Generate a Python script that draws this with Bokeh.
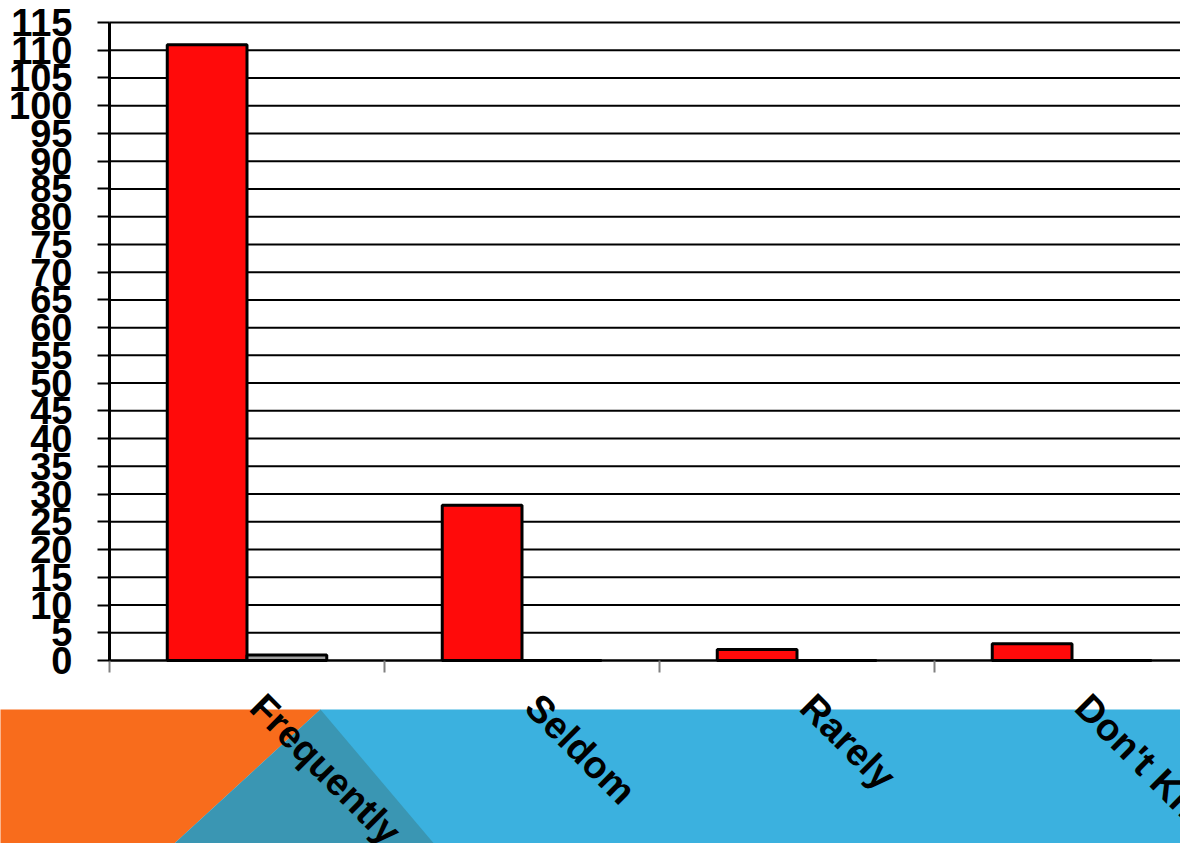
import numpy as np
from bokeh.plotting import figure
from bokeh.models import Range1d, FixedTicker, PolyAnnotation, LinearAxis
from bokeh.core.properties import value
from bokeh.embed import file_html
from bokeh.resources import INLINE

categories = ["Frequently", "Seldom", "Rarely", "Don't Know"]
series_red = [111, 28, 2, 3]
series_grey = [1, 0, 0, 0]
y_ticks = list(range(0, 120, 5))

FONT = "Liberation Sans"
W, H = 1180, 843

# layout (pixels): value axis at x=109, zero line at y=660, top (115) at y=22, 275 px per category
AX_X, ZERO_Y, TOP_Y = 109, 660, 22
PX_CAT = 275.0
PX_UNIT = (ZERO_Y - TOP_Y) / 115.0
x_start = -AX_X / PX_CAT
x_end = (W - AX_X) / PX_CAT
y_start = -(H - ZERO_Y) / PX_UNIT
y_end = ZERO_Y / PX_UNIT

p = figure(width=W, height=H, output_backend="svg", toolbar_location=None,
           x_range=Range1d(x_start, x_end), y_range=Range1d(y_start, y_end),
           x_axis_location=None, y_axis_location=None)
p.min_border_left = 0
p.min_border_right = 0
p.min_border_top = 0
p.min_border_bottom = 0
p.outline_line_color = None
p.background_fill_color = "white"
p.border_fill_color = "white"
p.xgrid.visible = False
p.ygrid.visible = False


def px_to_data(px, py):
    # pixel corners of the decoration -> data space
    return (px - AX_X) / PX_CAT, (ZERO_Y - py) / PX_UNIT


# decorative background shapes
for pts, col in [
    ([(-5, 709), (320, 709), (150, 865), (-5, 865)], "#F86C1C"),
    ([(320, 709), (1250, 709), (1250, 865), (150, 865)], "#3BB1DF"),
    ([(320, 709), (150, 865), (452, 865)], "#3A96B3"),
]:
    xy = [px_to_data(*q) for q in pts]
    p.add_layout(PolyAnnotation(xs=[a for a, b in xy], ys=[b for a, b in xy],
                                fill_color=col, fill_alpha=1.0, line_color=None,
                                level="underlay"))

# horizontal grid lines
p.segment(x0=0, x1=len(categories) + 1, y0=y_ticks, y1=y_ticks,
          line_color="black", line_width=2)

centers = np.arange(len(categories)) + 0.5
bw = 0.29
p.vbar(x=centers - bw / 2, top=series_red, width=bw, bottom=0,
       fill_color="#FF0A0A", line_color="black", line_width=3)
p.vbar(x=centers + bw / 2, top=series_grey, width=bw, bottom=0,
       fill_color="#A0A0A0", line_color="black", line_width=3)

# category labels, rotated -45 degrees, hanging below the category axis
p.text(x=centers, y=[0] * len(categories), text=categories, angle=-np.pi / 4,
       x_offset=10, y_offset=40, text_align="left", text_baseline="alphabetic",
       text_font=value(FONT), text_font_style="bold", text_font_size="38px",
       text_color="black")

# y axis
yax = LinearAxis(fixed_location=0, bounds=(0, 115),
                 ticker=FixedTicker(ticks=y_ticks, minor_ticks=[]))
yax.axis_line_color = "black"
yax.axis_line_width = 3
yax.major_tick_out = 12
yax.major_tick_in = 0
yax.major_tick_line_color = "black"
yax.major_tick_line_width = 2
yax.major_label_standoff = 25
yax.major_label_text_font = FONT
yax.major_label_text_font_style = "bold"
yax.major_label_text_font_size = "38px"
yax.major_label_text_color = "black"
p.add_layout(yax, "left")

# x axis (line and category-boundary ticks)
xax = LinearAxis(fixed_location=0, bounds=(0, len(categories)),
                 ticker=FixedTicker(ticks=[], minor_ticks=list(range(len(categories) + 1))))
xax.axis_line_color = "black"
xax.axis_line_width = 2
xax.major_tick_out = 0
xax.major_tick_in = 0
xax.minor_tick_out = 12
xax.minor_tick_in = 0
xax.minor_tick_line_color = "#808080"
xax.minor_tick_line_width = 2
xax.major_label_text_font_size = "0px"
p.add_layout(xax, "below")

open("out.html", "w").write(file_html(p, INLINE))
